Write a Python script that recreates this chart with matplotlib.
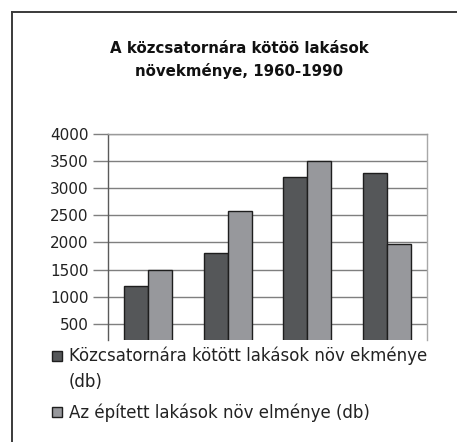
import matplotlib
matplotlib.use("Agg")
import matplotlib.pyplot as plt
import numpy as np
from matplotlib.lines import Line2D
from matplotlib.patches import Rectangle

# Data
periods = ["1960", "1970", "1980", "1990"]
sewer_connected = [1200, 1800, 3200, 3280]
built_homes = [1500, 2580, 3500, 1980]
yticks = [500, 1000, 1500, 2000, 2500, 3000, 3500, 4000]

title = "A közcsatornára kötöö lakások\nnövekménye, 1960-1990"
label_dark = "Közcsatornára kötött lakások növ ekménye\n(db)"
label_light = "Az épített lakások növ elménye (db)"

dark = "#555759"
light = "#97989c"
edge = "#1e1e1e"

W, H = 457, 442
fig = plt.figure(figsize=(W / 100, H / 100), dpi=100)
fig.patch.set_facecolor("white")

# Outer frame (top and left edges)
fig.add_artist(Line2D([12 / W, 1], [1 - 12 / H] * 2, color="#3a3a3a", lw=1.4))
fig.add_artist(Line2D([12 / W] * 2, [0, 1 - 12 / H], color="#3a3a3a", lw=1.4))

fig.text(239 / W, 1 - 60 / H, title, ha="center", va="center",
         fontsize=10.8, fontweight="bold", color="#111111", linespacing=1.6)

left, right, top, bottom = 108, 427, 134, 340
ax = fig.add_axes([left / W, 1 - bottom / H, (right - left) / W, (bottom - top) / H])

x = np.arange(len(periods))
bw = 0.3
ax.bar(x - bw / 2, sewer_connected, bw, color=dark, edgecolor=edge, linewidth=1.0, zorder=3)
ax.bar(x + bw / 2, built_homes, bw, color=light, edgecolor=edge, linewidth=1.0, zorder=3)

ax.set_xlim(-0.5, len(periods) - 0.5)
ax.set_ylim(200, 4000)
ax.set_yticks(yticks)
ax.set_yticklabels([str(v) for v in yticks], fontsize=11, color="#222222")
ax.set_xticks([])
ax.grid(axis="y", color="#7f7f7f", linewidth=1.0, zorder=0)
ax.tick_params(axis="y", length=11, width=1.0, color="#7f7f7f", pad=3)
ax.spines["bottom"].set_visible(False)
ax.spines["top"].set_color("#9a9a9a")
ax.spines["right"].set_color("#a8a8a8")
ax.spines["left"].set_color("#5a5a5a")
for s in ["top", "right", "left"]:
    ax.spines[s].set_linewidth(1.0)

# Legend
for (y0, col, lab) in [(350.5, dark, label_dark), (407, light, label_light)]:
    fig.add_artist(Rectangle((52 / W, 1 - (y0 + 10) / H), 10 / W, 10 / H,
                             transform=fig.transFigure, facecolor=col,
                             edgecolor=edge, linewidth=1.0))
    fig.text(69 / W, 1 - (y0 - 4) / H, lab, ha="left", va="top",
             fontsize=12, color="#222222", linespacing=1.6)

fig.savefig("out.png", dpi=100, facecolor="white")
